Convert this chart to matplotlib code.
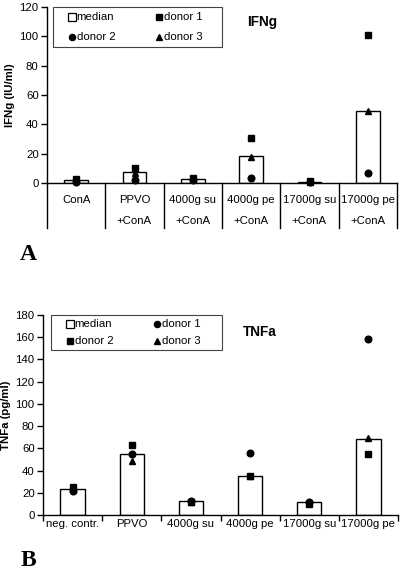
import matplotlib
matplotlib.use("Agg")
import matplotlib.pyplot as plt
from matplotlib.lines import Line2D
from matplotlib.patches import Rectangle
import matplotlib.transforms as mtransforms

plt.rcParams['font.family'] = ['Liberation Sans', 'DejaVu Sans']

# ---------------- Data: panel A (IFNg) ----------------
cats_a_top = ["ConA", "PPVO", "4000g su", "4000g pe", "17000g su", "17000g pe"]
cats_a_bot = ["", "+ConA", "+ConA", "+ConA", "+ConA", "+ConA"]
ifng_median = [2, 7.5, 2.5, 18.3, 0.7, 49.3]
ifng_donor1 = [3, 10.4, 3.2, 30.5, 1.2, 100.8]   # square
ifng_donor2 = [0.8, 1.8, 2.0, 3.2, 0.4, 6.6]     # circle
ifng_donor3 = [2, 7, 2.5, 18, 0.6, 49]           # triangle
yticks_a = [0, 20, 40, 60, 80, 100, 120]

# ---------------- Data: panel B (TNFa) ----------------
cats_b = ["neg. contr.", "PPVO", "4000g su", "4000g pe", "17000g su", "17000g pe"]
tnfa_median = [23.3, 55.3, 12.8, 35.5, 11.3, 68.5]
tnfa_donor1 = [22, 55, 13, 55.5, 12, 158.7]      # circle
tnfa_donor2 = [25.3, 63, 12, 35, 10, 54.8]       # square
tnfa_donor3 = [23, 48.8, 12, 35, 11, 69]         # triangle
yticks_b = [0, 20, 40, 60, 80, 100, 120, 140, 160, 180]

W, H = 400, 572
fig = plt.figure(figsize=(W / 100, H / 100), dpi=100)

def px_axes(left, right, top, bottom):
    return fig.add_axes([left / W, 1 - bottom / H, (right - left) / W, (bottom - top) / H])

FS = 8.2
MS = 4.8
BW = 0.41
LW = 1.0

def style_y(ax, ticks, label):
    ax.set_yticks(ticks)
    ax.set_ylim(ticks[0], ticks[-1])
    ax.tick_params(axis='y', direction='out', length=4, width=LW, pad=2, labelsize=FS)
    ax.spines['top'].set_visible(False)
    ax.spines['right'].set_visible(False)
    ax.spines['left'].set_linewidth(LW)
    ax.spines['bottom'].set_linewidth(LW)
    ax.set_ylabel(label, fontsize=FS, fontweight='bold', labelpad=3)

def make_legend(ax, entries, box):
    # box = (left, top, right, bottom) in pixels; entries in row-major order
    l, t, r, b = box
    h = b - t
    fig.patches.append(Rectangle((l / W, 1 - b / H), (r - l) / W, h / H,
                                 transform=fig.transFigure, fill=False,
                                 edgecolor='#444444', lw=0.8))
    col_x = [l + 19, l + 106]
    row_y = [t + 0.25 * h, t + 0.75 * h]
    for k, (lab, m) in enumerate(entries):
        cx = col_x[k % 2]
        cy = row_y[k // 2]
        if m == 'open':
            fig.add_artist(Line2D([cx / W], [1 - cy / H], marker='s', ls='none', mfc='white',
                                  mec='black', ms=5.6, mew=0.9, transform=fig.transFigure))
            tx = cx + 4
        else:
            fig.add_artist(Line2D([cx / W], [1 - cy / H], marker=m, ls='none', color='black',
                                  ms=MS - 0.4, transform=fig.transFigure))
            tx = cx + 5
        fig.text(tx / W, 1 - cy / H, lab, fontsize=FS, ha='left', va='center')

xs = [i + 0.5 for i in range(6)]

# ---------------- Panel A ----------------
axA = px_axes(47, 397, 7, 183)
axA.set_xlim(0, 6)
axA.bar(xs, ifng_median, width=BW, color='white', edgecolor='black', linewidth=LW, zorder=2)
axA.plot(xs, ifng_donor1, 's', color='black', ms=MS, zorder=3, clip_on=False)
axA.plot(xs, ifng_donor2, 'o', color='black', ms=MS, zorder=3, clip_on=False)
axA.plot(xs, ifng_donor3, '^', color='black', ms=MS, zorder=3, clip_on=False)
style_y(axA, yticks_a, "IFNg (IU/ml)")
axA.set_xticks([])
transA = mtransforms.blended_transform_factory(axA.transData, axA.transAxes)
low = -(228 - 183) / 176
for bnd in range(7):
    axA.plot([bnd, bnd], [0, low], color='black', lw=LW, transform=transA, clip_on=False)
for i in range(6):
    axA.text(xs[i], -(200 - 183) / 176, cats_a_top[i], transform=transA,
             ha='center', va='center', fontsize=FS)
    axA.text(xs[i], -(221 - 183) / 176, cats_a_bot[i], transform=transA,
             ha='center', va='center', fontsize=FS)

make_legend(axA, [("median", 'open'), ("donor 1", 's'), ("donor 2", 'o'), ("donor 3", '^')],
            (53, 7, 222, 47))
fig.text(262 / W, 1 - 22 / H, "IFNg", fontsize=9.8, fontweight='bold', ha='center', va='center')
fig.text(28 / W, 1 - 255 / H, "A", fontsize=17, fontweight='bold', family='Liberation Serif',
         ha='center', va='center')

# ---------------- Panel B ----------------
axB = px_axes(43, 398, 315, 515)
axB.set_xlim(0, 6)
axB.bar(xs, tnfa_median, width=BW, color='white', edgecolor='black', linewidth=LW, zorder=2)
axB.plot(xs, tnfa_donor1, 'o', color='black', ms=MS, zorder=3, clip_on=False)
axB.plot(xs, tnfa_donor2, 's', color='black', ms=MS, zorder=3, clip_on=False)
axB.plot(xs, tnfa_donor3, '^', color='black', ms=MS, zorder=3, clip_on=False)
style_y(axB, yticks_b, "TNFa (pg/ml)")
axB.set_xticks(range(7))
axB.set_xticklabels([])
axB.tick_params(axis='x', direction='out', length=4, width=LW)
axB.set_xticks(xs, minor=True)
axB.set_xticklabels(cats_b, minor=True, fontsize=FS)
axB.tick_params(axis='x', which='minor', length=0, pad=3)

make_legend(axB, [("median", 'open'), ("donor 1", 'o'), ("donor 2", 's'), ("donor 3", '^')],
            (51, 315, 222, 350))
fig.text(260 / W, 1 - 332 / H, "TNFa", fontsize=9.8, fontweight='bold', ha='center', va='center')
fig.text(28 / W, 1 - 561 / H, "B", fontsize=17, fontweight='bold', family='Liberation Serif',
         ha='center', va='center')

fig.savefig("out.png", dpi=100)
